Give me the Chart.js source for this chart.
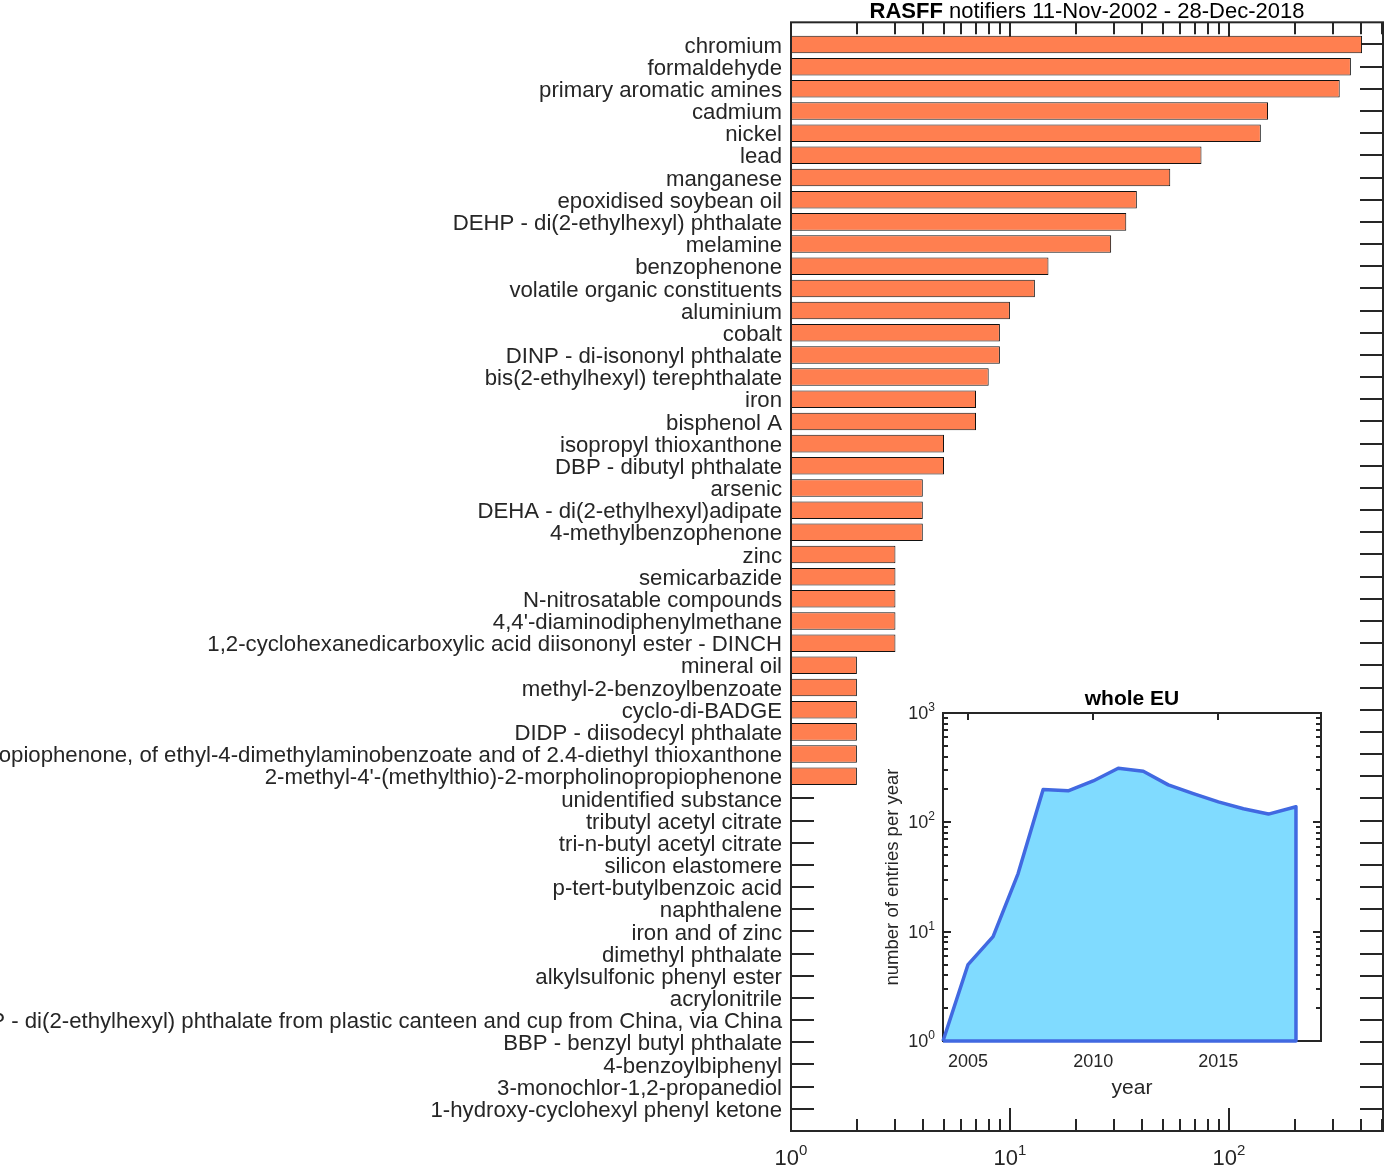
<!DOCTYPE html>
<html>
<head>
<meta charset="utf-8">
<title>RASFF notifiers</title>
<script src="https://cdn.jsdelivr.net/npm/chart.js@4"></script>
<style>
	html, body { margin: 0; padding: 0; background: #fff; }
	#wrap { position: relative; width: 1385px; height: 1166px; overflow: hidden; }
	#main { position: absolute; left: 0; top: 0; }
	#inset { position: absolute; left: 860px; top: 680px; }
</style>
</head>
<body>
<div id="wrap">
	<canvas id="main" width="1385" height="1166"></canvas>
	<canvas id="inset" width="480" height="430"></canvas>
</div>
<script>
// hazards notified, top to bottom, with the number of notifications each
const hazards = [
	'chromium', 'formaldehyde', 'primary aromatic amines', 'cadmium', 'nickel', 'lead',
	'manganese', 'epoxidised soybean oil', 'DEHP - di(2-ethylhexyl) phthalate', 'melamine',
	'benzophenone', 'volatile organic constituents', 'aluminium', 'cobalt',
	'DINP - di-isononyl phthalate', 'bis(2-ethylhexyl) terephthalate', 'iron', 'bisphenol A',
	'isopropyl thioxanthone', 'DBP - dibutyl phthalate', 'arsenic',
	'DEHA - di(2-ethylhexyl)adipate', '4-methylbenzophenone', 'zinc', 'semicarbazide',
	'N-nitrosatable compounds', "4,4'-diaminodiphenylmethane",
	'1,2-cyclohexanedicarboxylic acid diisononyl ester - DINCH', 'mineral oil',
	'methyl-2-benzoylbenzoate', 'cyclo-di-BADGE', 'DIDP - diisodecyl phthalate',
	"isopropyl thioxanthone, of 2-methyl-4'-(methylthio)-2-morpholinopropiophenone, of ethyl-4-dimethylaminobenzoate and of 2.4-diethyl thioxanthone",
	"2-methyl-4'-(methylthio)-2-morpholinopropiophenone", 'unidentified substance',
	'tributyl acetyl citrate', 'tri-n-butyl acetyl citrate', 'silicon elastomere',
	'p-tert-butylbenzoic acid', 'naphthalene', 'iron and of zinc', 'dimethyl phthalate',
	'alkylsulfonic phenyl ester', 'acrylonitrile',
	'DEHP - di(2-ethylhexyl) phthalate from plastic canteen and cup from China, via China',
	'BBP - benzyl butyl phthalate', '4-benzoylbiphenyl', '3-monochlor-1,2-propanediol',
	'1-hydroxy-cyclohexyl phenyl ketone'
];
const notifications = [
	406, 361, 321, 151, 140, 75, 54, 38, 34, 29,
	15, 13, 10, 9, 9, 8, 7, 7, 5, 5,
	4, 4, 4, 3, 3, 3, 3, 3, 2, 2,
	2, 2, 2, 2, 1, 1, 1, 1, 1, 1,
	1, 1, 1, 1, 1, 1, 1, 1, 1
];
const xMajor = [1, 10, 100];
const xMinor = [2, 3, 4, 5, 6, 7, 8, 9, 20, 30, 40, 50, 60, 70, 80, 90, 200, 300, 400, 500];

// inset: entries per year for the whole EU
const euYears = [2004, 2005, 2006, 2007, 2008, 2009, 2010, 2011, 2012, 2013, 2014, 2015, 2016, 2017, 2018.1];
const euEntries = [1, 5, 9, 34, 200, 194, 239, 312, 293, 220, 183, 154, 133, 119, 139];
const euYearTicks = [2005, 2010, 2015];
const euDecades = [1, 10, 100, 1000];

const FONT = '"Liberation Sans", Arial, Helvetica, sans-serif';
const INK = '#262626';

// "10" with a raised exponent
function powerLabel(ctx, x, baseline, exp, size, supSize, align) {
	ctx.font = `${size}px ${FONT}`;
	const wBase = ctx.measureText('10').width;
	ctx.font = `${supSize}px ${FONT}`;
	const wSup = ctx.measureText(String(exp)).width;
	const w = wBase + wSup;
	const x0 = align === 'right' ? x - w : x - w / 2;
	ctx.textAlign = 'left';
	ctx.textBaseline = 'alphabetic';
	ctx.fillStyle = INK;
	ctx.font = `${size}px ${FONT}`;
	ctx.fillText('10', x0, baseline);
	ctx.font = `${supSize}px ${FONT}`;
	ctx.fillText(String(exp), x0 + wBase, baseline - size * 0.45);
}

function line(ctx, x1, y1, x2, y2) {
	ctx.beginPath();
	ctx.moveTo(x1, y1);
	ctx.lineTo(x2, y2);
	ctx.stroke();
}

const mainAxes = {
	id: 'mainAxes',
	beforeDatasetsDraw(chart) {
		const { ctx, chartArea: a, scales: { x, y } } = chart;
		ctx.save();
		ctx.strokeStyle = INK;
		ctx.lineWidth = 2;
		hazards.forEach((h, i) => {
			const py = Math.round(y.getPixelForValue(i + 1));
			line(ctx, a.left, py, a.left + 23, py);
			line(ctx, a.right, py, a.right - 23, py);
		});
		xMajor.concat(xMinor).forEach(v => {
			const len = xMajor.includes(v) ? 23 : 12;
			const px = Math.round(x.getPixelForValue(v));
			line(ctx, px, a.bottom, px, a.bottom - len);
			line(ctx, px, a.top, px, a.top + len);
		});
		ctx.restore();
	},
	afterDatasetsDraw(chart) {
		const { ctx, chartArea: a, scales: { x } } = chart;
		ctx.save();
		ctx.strokeStyle = INK;
		ctx.lineWidth = 2;
		ctx.strokeRect(a.left, a.top, a.right - a.left, a.bottom - a.top);
		xMajor.forEach((v, i) => powerLabel(ctx, x.getPixelForValue(v), 1165, i, 22, 15));
		// title: bold "RASFF", regular rest
		const bold = 'RASFF', rest = ' notifiers 11-Nov-2002 - 28-Dec-2018';
		ctx.font = `bold 22px ${FONT}`;
		const wb = ctx.measureText(bold).width;
		ctx.font = `22px ${FONT}`;
		const wr = ctx.measureText(rest).width;
		const x0 = (a.left + a.right) / 2 - (wb + wr) / 2;
		ctx.fillStyle = '#000';
		ctx.textAlign = 'left';
		ctx.textBaseline = 'alphabetic';
		ctx.font = `bold 22px ${FONT}`;
		ctx.fillText(bold, x0, 18);
		ctx.font = `22px ${FONT}`;
		ctx.fillText(rest, x0 + wb, 18);
		ctx.restore();
	}
};

new Chart(document.getElementById('main'), {
	type: 'bar',
	data: {
		labels: ['', ...hazards, ''],
		datasets: [{
			data: [null, ...notifications, null],
			backgroundColor: '#FF7F50',
			borderColor: '#111',
			borderWidth: 1,
			borderSkipped: false,
			barPercentage: 0.79,
			categoryPercentage: 1,
		}],
	},
	options: {
		indexAxis: 'y',
		responsive: false,
		devicePixelRatio: 1,
		animation: false,
		layout: { padding: { top: 22, right: 2, left: 0, bottom: 0 } },
		scales: {
			x: {
				type: 'logarithmic',
				min: 1,
				max: 506,
				position: 'bottom',
				grid: { display: false },
				border: { display: false },
				ticks: { display: false },
				afterFit: s => { s.height = 35; },
			},
			y: {
				type: 'category',
				offset: false,
				grid: { display: false, drawTicks: false },
				border: { display: false },
				ticks: {
					autoSkip: false,
					padding: 9,
					labelOffset: 2,
					color: INK,
					font: { family: FONT, size: 22.2 },
				},
				afterFit: s => { s.width = 791; },
			},
		},
		plugins: { legend: { display: false }, tooltip: { enabled: false } },
	},
	plugins: [mainAxes],
});

const insetAxes = {
	id: 'insetAxes',
	beforeDatasetsDraw(chart) {
		const { ctx, chartArea: a, scales: { x, y } } = chart;
		ctx.save();
		ctx.strokeStyle = INK;
		ctx.lineWidth = 2;
		ctx.strokeRect(a.left, a.top, a.right - a.left, a.bottom - a.top);
		euYearTicks.forEach(v => {
			const px = Math.round(x.getPixelForValue(v));
			line(ctx, px, a.bottom, px, a.bottom - 7);
			line(ctx, px, a.top, px, a.top + 7);
		});
		euDecades.forEach((d, k) => {
			const py = Math.round(y.getPixelForValue(d));
			line(ctx, a.left, py, a.left + 8, py);
			line(ctx, a.right, py, a.right - 8, py);
			if (k === euDecades.length - 1) return;
			for (let m = 2; m <= 9; m++) {
				const pm = Math.round(y.getPixelForValue(d * m));
				line(ctx, a.left, pm, a.left + 5, pm);
				line(ctx, a.right, pm, a.right - 5, pm);
			}
		});
		ctx.restore();
	},
	afterDraw(chart) {
		const { ctx, chartArea: a, scales: { x, y } } = chart;
		ctx.save();
		ctx.fillStyle = INK;
		euDecades.forEach((d, k) => powerLabel(ctx, a.left - 8, y.getPixelForValue(d) + 6, k, 18, 12, 'right'));
		ctx.font = `18px ${FONT}`;
		ctx.textAlign = 'center';
		ctx.textBaseline = 'alphabetic';
		euYearTicks.forEach(v => ctx.fillText(String(v), x.getPixelForValue(v), a.bottom + 26));
		ctx.font = `21px ${FONT}`;
		ctx.fillText('year', (a.left + a.right) / 2, a.bottom + 53);
		ctx.save();
		ctx.translate(a.left - 45, (a.top + a.bottom) / 2);
		ctx.rotate(-Math.PI / 2);
		ctx.font = `18.5px ${FONT}`;
		ctx.fillText('number of entries per year', 0, 0);
		ctx.restore();
		ctx.fillStyle = '#000';
		ctx.font = `bold 21px ${FONT}`;
		ctx.fillText('whole EU', (a.left + a.right) / 2, a.top - 8);
		ctx.restore();
	}
};

// area under the yearly counts, and its closed outline on top
const euLast = euYears.length - 1;
const euArea = euYears.map((yr, i) => ({ x: yr, y: euEntries[i] }));
const euOutline = euArea.concat([{ x: euYears[euLast], y: 1 }, { x: euYears[0], y: 1 }]);

new Chart(document.getElementById('inset'), {
	type: 'line',
	data: {
		datasets: [{
			data: euArea,
			order: 2,
			borderWidth: 0,
			borderColor: 'rgba(0,0,0,0)',
			backgroundColor: '#80DBFF',
			fill: 'start',
			pointRadius: 0,
			tension: 0,
		}, {
			data: euOutline,
			order: 1,
			borderColor: '#4169E1',
			borderWidth: 3.5,
			borderJoinStyle: 'round',
			fill: false,
			pointRadius: 0,
			tension: 0,
			clip: 4,
		}],
	},
	options: {
		responsive: false,
		devicePixelRatio: 1,
		animation: false,
		layout: { padding: { left: 83, right: 19, top: 33, bottom: 69 } },
		scales: {
			x: { type: 'linear', min: 2004, max: 2019.1, display: false },
			y: { type: 'logarithmic', min: 1, max: 1000, display: false },
		},
		plugins: { legend: { display: false }, tooltip: { enabled: false } },
	},
	plugins: [insetAxes],
});
</script>
</body>
</html>
